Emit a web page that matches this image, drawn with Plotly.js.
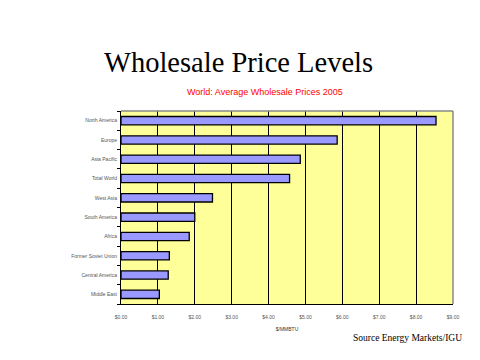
<!DOCTYPE html>
<html>
<head>
<meta charset="utf-8">
<script src="https://cdn.plot.ly/plotly-3.0.1.min.js"></script>
<style>html,body{margin:0;padding:0;background:#fff;}#chart{width:480px;height:360px;}</style>
</head>
<body>
<div id="chart"></div>
<script>
const regions = ["North America", "Europe", "Asia Pacific", "Total World", "West Asia",
  "South America", "Africa", "Former Soviet Union", "Central America", "Middle East"];
const prices = [8.54, 5.86, 4.86, 4.57, 2.48, 2.00, 1.85, 1.31, 1.28, 1.04];
const xTicks = [0, 1, 2, 3, 4, 5, 6, 7, 8, 9];
const xTickLabels = ["$0.00", "$1.00", "$2.00", "$3.00", "$4.00", "$5.00", "$6.00", "$7.00", "$8.00", "$9.00"];

const trace = {
  type: 'bar',
  orientation: 'h',
  x: prices,
  y: regions,
  marker: {color: '#9999FF', line: {color: '#000000', width: 1.3}},
  hoverinfo: 'none'
};

const layout = {
  width: 480, height: 360,
  margin: {l: 121, r: 27, t: 111, b: 56},
  paper_bgcolor: '#ffffff',
  plot_bgcolor: '#FFFF99',
  showlegend: false,
  bargap: 0.57,
  xaxis: {
    range: [0, 9],
    tickmode: 'array',
    tickvals: xTicks,
    ticktext: xTickLabels,
    showgrid: true, gridcolor: '#000000', gridwidth: 1,
    zeroline: false,
    showline: true, linecolor: '#000000', linewidth: 1,
    ticks: '',
    ticklabelstandoff: 8,
    tickfont: {family: 'Arial, Liberation Sans, sans-serif', size: 5, color: '#555555'},
    title: {text: '$/MMBTU', font: {family: 'Arial, Liberation Sans, sans-serif', size: 5, color: '#333333'}, standoff: 8},
    fixedrange: true
  },
  yaxis: {
    categoryorder: 'array',
    categoryarray: regions.slice().reverse(),
    showgrid: false, zeroline: false,
    showline: true, linecolor: '#000000', linewidth: 1,
    ticks: 'outside', tickson: 'boundaries', ticklen: 3, tickcolor: '#000000', tickwidth: 1,
    ticklabelstandoff: 2,
    tickfont: {family: 'Arial, Liberation Sans, sans-serif', size: 5, color: '#555555'},
    fixedrange: true
  },
  shapes: [
    {type: 'line', xref: 'paper', yref: 'paper', x0: 0, x1: 1, y0: 1, y1: 1, line: {color: '#888888', width: 1.5}, layer: 'above'},
    {type: 'line', xref: 'paper', yref: 'paper', x0: 1, x1: 1, y0: 0, y1: 1, line: {color: '#888888', width: 1.5}, layer: 'above'}
  ],
  annotations: [
    {text: 'Wholesale Price Levels', xref: 'paper', yref: 'paper', x: 0.355, xanchor: 'center', y: 1.0, yshift: 49, yanchor: 'middle', showarrow: false,
     font: {family: 'Liberation Serif, Times New Roman, serif', size: 28.5, color: '#000000'}},
    {text: 'World: Average Wholesale Prices 2005', xref: 'paper', yref: 'paper', x: 0.435, xanchor: 'center', y: 1.0, yshift: 19, yanchor: 'middle', showarrow: false,
     font: {family: 'Arial, Liberation Sans, sans-serif', size: 9, color: '#FF0000'}},
    {text: 'Source Energy Markets/IGU', xref: 'paper', yref: 'paper', x: 1.0, xshift: 11, xanchor: 'right', y: 0, yshift: -34, yanchor: 'middle', showarrow: false,
     font: {family: 'Liberation Serif, Times New Roman, serif', size: 9.5, color: '#000000'}}
  ]
};

Plotly.newPlot('chart', [trace], layout, {staticPlot: true, displayModeBar: false});
</script>
</body>
</html>
